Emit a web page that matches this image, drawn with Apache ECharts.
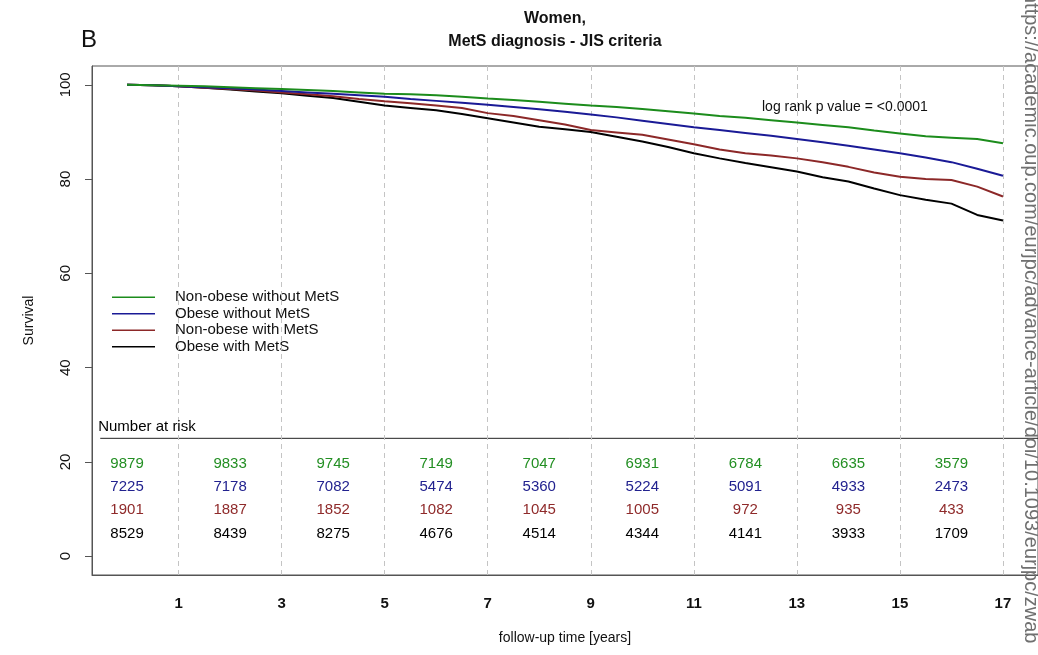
<!DOCTYPE html>
<html>
<head>
<meta charset="utf-8">
<script src="https://cdn.jsdelivr.net/npm/echarts@6/dist/echarts.min.js"></script>
<style>
html,body{margin:0;padding:0;background:#fff;}
#main{width:1038px;height:655px;}
</style>
</head>
<body>
<div id="main"></div>
<script>
// ---- data ----
const seriesNames = ['Non-obese without MetS', 'Obese without MetS', 'Non-obese with MetS', 'Obese with MetS'];

const greenCurve = [[0,100],[0.5,99.9],[1,99.8],[1.5,99.7],[2,99.5],[2.5,99.3],[3,99.1],[3.5,98.9],[4,98.7],[4.5,98.4],[5,98.1],[5.5,98.0],[6,97.8],[6.5,97.5],[7,97.1],[7.5,96.8],[8,96.4],[8.5,96.0],[9,95.6],[9.5,95.3],[10,94.9],[10.5,94.4],[11,93.9],[11.5,93.4],[12,93.0],[12.5,92.5],[13,92.0],[13.5,91.5],[14,91.0],[14.5,90.3],[15,89.7],[15.5,89.1],[16,88.8],[16.5,88.5],[17,87.6]];
const blueCurve  = [[0,100],[0.5,99.9],[1,99.7],[1.5,99.5],[2,99.3],[2.5,99.0],[3,98.7],[3.5,98.4],[4,98.1],[4.5,97.8],[5,97.5],[5.5,97.0],[6,96.6],[6.5,96.2],[7,95.8],[7.5,95.3],[8,94.8],[8.5,94.3],[9,93.7],[9.5,93.1],[10,92.4],[10.5,91.7],[11,91.0],[11.5,90.4],[12,89.8],[12.5,89.2],[13,88.5],[13.5,87.8],[14,87.1],[14.5,86.3],[15,85.5],[15.5,84.6],[16,83.6],[16.5,82.2],[17,80.7]];
const redCurve   = [[0,100],[0.5,99.9],[1,99.7],[1.5,99.4],[2,99.1],[2.5,98.8],[3,98.4],[3.5,98.0],[4,97.6],[4.5,97.0],[5,96.5],[5.5,96.1],[6,95.6],[6.5,95.1],[7,94.0],[7.5,93.4],[8,92.5],[8.5,91.6],[9,90.4],[9.5,89.9],[10,89.4],[10.5,88.4],[11,87.4],[11.5,86.3],[12,85.5],[12.5,85.0],[13,84.4],[13.5,83.6],[14,82.6],[14.5,81.4],[15,80.5],[15.5,80.0],[16,79.8],[16.5,78.4],[17,76.3]];
const blackCurve = [[0,100],[0.5,99.9],[1,99.7],[1.5,99.4],[2,99.0],[2.5,98.6],[3,98.2],[3.5,97.7],[4,97.2],[4.5,96.4],[5,95.6],[5.5,95.1],[6,94.6],[6.5,93.8],[7,92.9],[7.5,92.0],[8,91.1],[8.5,90.6],[9,90.0],[9.5,89.0],[10,88.0],[10.5,86.8],[11,85.5],[11.5,84.4],[12,83.4],[12.5,82.5],[13,81.6],[13.5,80.4],[14,79.5],[14.5,78.0],[15,76.6],[15.5,75.6],[16,74.8],[16.5,72.4],[17,71.2]];

const riskTimes = [0, 2, 4, 6, 8, 10, 12, 14, 16];
const riskGreen = [9879, 9833, 9745, 7149, 7047, 6931, 6784, 6635, 3579];
const riskBlue  = [7225, 7178, 7082, 5474, 5360, 5224, 5091, 4933, 2473];
const riskRed   = [1901, 1887, 1852, 1082, 1045, 1005, 972, 935, 433];
const riskBlack = [8529, 8439, 8275, 4676, 4514, 4344, 4141, 3933, 1709];

const xTickLabels = [1, 3, 5, 7, 9, 11, 13, 15, 17];
const yTickLabels = [0, 20, 40, 60, 80, 100];

// ---- styles ----
const FONT = '"Liberation Sans", Arial, Helvetica, sans-serif';
const lineColors = ['#1c8c1c', '#1a1a96', '#8c2828', '#000000'];
const textColors = ['#238f23', '#22228f', '#8f2a2a', '#000000'];

const curves = [greenCurve, blueCurve, redCurve, blackCurve];
const risks = [riskGreen, riskBlue, riskRed, riskBlack];
const rowYs = [19.6, 14.7, 9.8, 4.8];

const chart = echarts.init(document.getElementById('main'), null, {renderer: 'canvas'});

const series = [];

// horizontal rule under "Number at risk" + vertical dashed grid lines
series.push({
  type: 'line',
  silent: true,
  z: 1,
  symbol: 'none',
  data: [[-0.52, 25], [17.68, 25]],
  lineStyle: {color: '#222', width: 1},
  markLine: {
    silent: true,
    symbol: ['none', 'none'],
    label: {show: false},
    lineStyle: {color: '#c4c4c4', type: [5, 4], width: 1},
    data: xTickLabels.map(v => ({xAxis: v}))
  }
});

curves.forEach((c, i) => {
  series.push({
    name: seriesNames[i],
    type: 'line',
    z: 5 + (3 - i),
    symbol: 'none',
    smooth: false,
    data: c,
    lineStyle: {color: lineColors[i], width: 2},
    itemStyle: {color: lineColors[i]}
  });
});

// number-at-risk table
risks.forEach((r, i) => {
  series.push({
    type: 'scatter',
    silent: true,
    symbolSize: 0,
    z: 10,
    itemStyle: {color: textColors[i], opacity: 1},
    data: riskTimes.map((t, k) => [t, rowYs[i], r[k]]),
    label: {
      show: true,
      position: 'inside',
      formatter: p => String(p.value[2]),
      color: textColors[i],
      textBorderWidth: 0,
      opacity: 1,
      fontFamily: FONT,
      fontSize: 15
    }
  });
});

// "Number at risk" caption
series.push({
  type: 'scatter',
  silent: true,
  symbolSize: 0,
  z: 10,
  itemStyle: {color: '#000', opacity: 1},
  data: [[-0.56, 27.5]],
  label: {
    show: true,
    position: 'right',
    distance: 0,
    formatter: 'Number at risk',
    color: '#000',
    textBorderWidth: 0,
    opacity: 1,
    fontFamily: FONT,
    fontSize: 15
  }
});

chart.setOption({
  animation: false,
  backgroundColor: '#ffffff',
  textStyle: {fontFamily: FONT},
  grid: {
    left: 92, top: 66, width: 953, height: 509,
    show: true, borderColor: '#555', borderWidth: 1, backgroundColor: 'transparent'
  },
  legend: {
    orient: 'vertical',
    left: 107,
    top: 284,
    icon: 'rect',
    itemWidth: 43,
    itemHeight: 1.5,
    itemGap: 0,
    selectedMode: false,
    data: seriesNames,
    textStyle: {fontFamily: FONT, fontSize: 15, color: '#111', lineHeight: 16.5, padding: [0, 0, 0, 15]}
  },
  xAxis: {
    type: 'value',
    min: -0.68,
    max: 17.68,
    name: 'follow-up time [years]',
    nameLocation: 'middle',
    nameGap: 56,
    nameTextStyle: {fontFamily: FONT, fontSize: 14, color: '#111'},
    axisLine: {show: true, onZero: false, lineStyle: {color: '#555'}},
    axisTick: {show: false},
    splitLine: {show: false},
    axisLabel: {
      customValues: xTickLabels,
      margin: 21,
      fontFamily: FONT,
      fontSize: 15,
      fontWeight: 'bold',
      color: '#111'
    }
  },
  yAxis: {
    type: 'value',
    min: -4,
    max: 104,
    name: 'Survival',
    nameLocation: 'middle',
    nameGap: 56,
    nameRotate: 90,
    nameTextStyle: {fontFamily: FONT, fontSize: 14, color: '#111'},
    axisLine: {show: true, onZero: false, lineStyle: {color: '#555'}},
    axisTick: {show: true, length: 7, customValues: yTickLabels, lineStyle: {color: '#555'}},
    splitLine: {show: false},
    axisLabel: {
      customValues: yTickLabels,
      rotate: 90,
      margin: 19,
      fontFamily: FONT,
      fontSize: 15,
      color: '#111'
    }
  },
  graphic: [
    {type: 'text', left: 81, top: 28, style: {text: 'B', font: '24px ' + FONT, fill: '#111'}},
    {type: 'text', x: 555, y: 19, style: {text: 'Women,', font: 'bold 16px ' + FONT, fill: '#111', textAlign: 'center', textVerticalAlign: 'middle'}},
    {type: 'text', x: 555, y: 42, style: {text: 'MetS diagnosis - JIS criteria', font: 'bold 16px ' + FONT, fill: '#111', textAlign: 'center', textVerticalAlign: 'middle'}},
    {type: 'text', x: 762, y: 107, style: {text: 'log rank p value = <0.0001', font: '14px ' + FONT, fill: '#111', textAlign: 'left', textVerticalAlign: 'middle'}},
    {type: 'text', x: 1031, y: -8, rotation: -Math.PI / 2, z: 100,
     style: {text: 'https://academic.oup.com/eurjpc/advance-article/doi/10.1093/eurjpc/zwab', font: '20px ' + FONT, fill: '#707070', textAlign: 'left', textVerticalAlign: 'middle'}}
  ],
  series: series
});
</script>
</body>
</html>
